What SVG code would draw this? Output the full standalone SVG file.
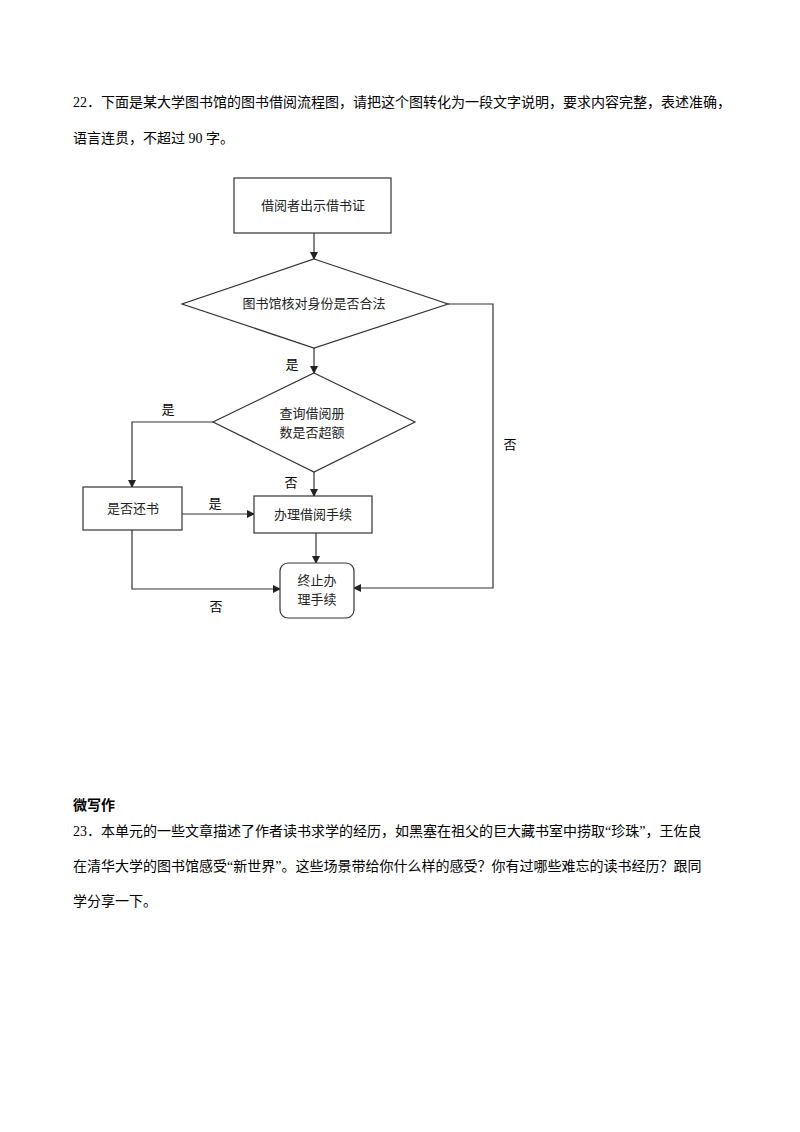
<svg xmlns="http://www.w3.org/2000/svg" width="800" height="1132" viewBox="0 0 800 1132">
<style>
text{font-family:"Liberation Serif","Noto Sans CJK SC",serif;fill:#000}
.t{font-size:14px}
.n{font-family:"Noto Sans CJK SC",sans-serif;font-size:13px;text-anchor:middle;fill:#222}
.s{fill:#fff;stroke:#333;stroke-width:1.2}
.c{fill:none;stroke:#333;stroke-width:1.2;marker-end:url(#a)}
</style>
<defs><marker id="a" markerWidth="8" markerHeight="8" refX="7" refY="4" orient="auto" markerUnits="userSpaceOnUse"><path d="M0,0 L8,4 L0,8z" fill="#222"/></marker></defs>
<rect width="800" height="1132" fill="#fff"/>
<text class="t" x="73" y="107">22．下面是某大学图书馆的图书借阅流程图，请把这个图转化为一段文字说明，要求内容完整，表述准确，</text>
<text class="t" x="73" y="143">语言连贯，不超过 90 字。</text>
<g id="connectors">
<path class="c" d="M314,233 V259"/>
<path class="c" d="M314,348 V373"/>
<path class="c" d="M213,422 H132 V487"/>
<path class="c" d="M314,472 V496"/>
<path class="c" d="M182,514 H254"/>
<path class="c" d="M316,533 V563"/>
<path class="c" d="M132,530 V589 H280"/>
<path class="c" d="M448,304 H493 V588 H354"/>
</g>
<g id="labels" class="n">
<text x="292" y="369">是</text>
<text x="168" y="414">是</text>
<text x="291" y="487">否</text>
<text x="215" y="508">是</text>
<text x="510" y="449">否</text>
<text x="216" y="611">否</text>
</g>
<g id="n1"><rect class="s" x="234" y="178" width="157" height="55"/><text class="n" x="313" y="210">借阅者出示借书证</text></g>
<g id="n2"><polygon class="s" points="314,259 448,304 314,348 182,304"/><text class="n" x="314" y="308">图书馆核对身份是否合法</text></g>
<g id="n3"><polygon class="s" points="314,373 415,422 314,472 213,422"/><text class="n" x="312" y="418">查询借阅册</text><text class="n" x="312" y="437">数是否超额</text></g>
<g id="n4"><rect class="s" x="83" y="487" width="99" height="43"/><text class="n" x="133" y="513">是否还书</text></g>
<g id="n5"><rect class="s" x="254" y="496" width="118" height="37"/><text class="n" x="313" y="519">办理借阅手续</text></g>
<g id="n6"><rect class="s" x="280" y="563" width="74" height="55" rx="8"/><text class="n" x="317" y="585">终止办</text><text class="n" x="317" y="604">理手续</text></g>
<text x="73" y="810" style="font-family:'Noto Sans CJK SC',sans-serif;font-size:14px;font-weight:bold">微写作</text>
<text class="t" x="73" y="836">23．本单元的一些文章描述了作者读书求学的经历，如黑塞在祖父的巨大藏书室中捞取“珍珠”，王佐良</text>
<text class="t" x="73" y="871">在清华大学的图书馆感受“新世界”。这些场景带给你什么样的感受？你有过哪些难忘的读书经历？跟同</text>
<text class="t" x="73" y="906">学分享一下。</text>
</svg>
